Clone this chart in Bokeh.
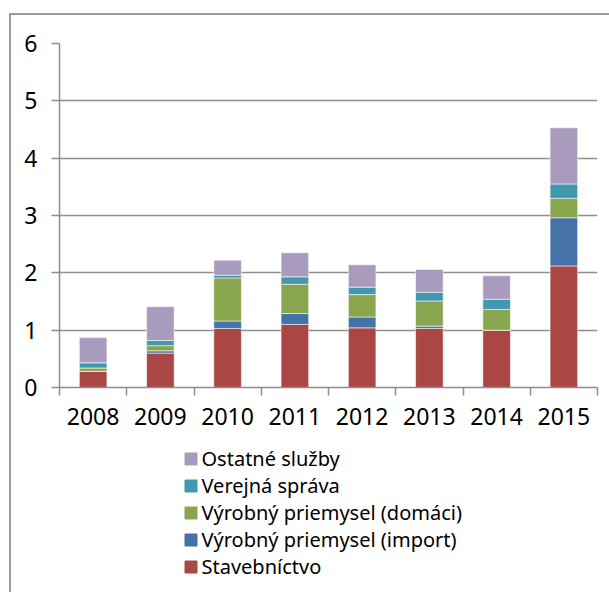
from bokeh.plotting import figure
from bokeh.layouts import column
from bokeh.models import Range1d, FixedTicker, Legend, LegendItem
from bokeh.embed import file_html
from bokeh.resources import INLINE

# Categories and stacked series (values read per year)
years = ["2008", "2009", "2010", "2011", "2012", "2013", "2014", "2015"]
stavebnictvo = [0.28, 0.60, 1.03, 1.10, 1.04, 1.03, 1.00, 2.12]
vyrobny_import = [0.00, 0.04, 0.13, 0.19, 0.19, 0.04, 0.00, 0.84]
vyrobny_domaci = [0.06, 0.09, 0.75, 0.51, 0.39, 0.44, 0.36, 0.34]
verejna_sprava = [0.09, 0.09, 0.05, 0.13, 0.13, 0.15, 0.18, 0.25]
ostatne_sluzby = [0.44, 0.59, 0.26, 0.42, 0.39, 0.40, 0.41, 0.98]

series_names = ["Stavebníctvo", "Výrobný priemysel (import)",
                "Výrobný priemysel (domáci)", "Verejná správa", "Ostatné služby"]
colors = ["#AA4643", "#4572A7", "#89A54E", "#4198AF", "#A99BBD"]
y_ticks = [0, 1, 2, 3, 4, 5, 6]

FONT = "Noto Sans"
GREY = "#8E8E8E"

x_pos = [i + 0.5 for i in range(len(years))]
data = {"x": x_pos, "s0": stavebnictvo, "s1": vyrobny_import, "s2": vyrobny_domaci,
        "s3": verejna_sprava, "s4": ostatne_sluzby}
keys = ["s0", "s1", "s2", "s3", "s4"]

# ---- main chart ----
p = figure(width=598, height=425, output_backend="svg", toolbar_location=None,
           x_range=Range1d(0, len(years)), y_range=Range1d(0, 6),
           min_border_left=48, min_border_right=12, min_border_top=28,
           min_border_bottom=53)
p.outline_line_color = None
p.background_fill_color = "white"
p.border_fill_color = "white"

p.vbar_stack(keys, x="x", width=0.41, source=data, color=colors,
             line_color="white", line_alpha=0.55, line_width=1)

# y axis
p.yaxis.ticker = FixedTicker(ticks=y_ticks)
p.yaxis.axis_line_color = GREY
p.yaxis.axis_line_width = 1.5
p.yaxis.major_tick_line_color = GREY
p.yaxis.major_tick_line_width = 1.5
p.yaxis.major_tick_in = 0
p.yaxis.major_tick_out = 8
p.yaxis.minor_tick_line_color = None
p.yaxis.major_label_text_font = FONT
p.yaxis.major_label_text_font_size = "23px"
p.yaxis.major_label_text_color = "black"
p.yaxis.major_label_standoff = 14

# x axis: labels at category centres, ticks at category boundaries
p.xaxis.ticker = FixedTicker(ticks=x_pos, minor_ticks=list(range(len(years) + 1)))
p.xaxis.major_label_overrides = {x: y for x, y in zip(x_pos, years)}
p.xaxis.axis_line_color = GREY
p.xaxis.axis_line_width = 1.5
p.xaxis.major_tick_line_color = None
p.xaxis.minor_tick_line_color = GREY
p.xaxis.minor_tick_line_width = 1.5
p.xaxis.minor_tick_in = 0
p.xaxis.minor_tick_out = 8
p.xaxis.major_label_text_font = FONT
p.xaxis.major_label_text_font_size = "23px"
p.xaxis.major_label_text_color = "black"
p.xaxis.major_label_standoff = 12

p.xgrid.grid_line_color = None
p.ygrid.ticker = FixedTicker(ticks=y_ticks)
p.ygrid.grid_line_color = GREY
p.ygrid.grid_line_width = 1.5

# ---- legend strip below the chart ----
lg = figure(width=598, height=152, output_backend="svg", toolbar_location=None,
            x_range=Range1d(0, 1), y_range=Range1d(0, 1),
            x_axis_type=None, y_axis_type=None, min_border=0)
lg.outline_line_color = None
lg.grid.grid_line_color = None
lg.background_fill_color = "white"
lg.border_fill_color = "white"

# hidden copies of the series, used only for the legend swatches
swatches = [lg.vbar(x="x", top=k, width=0.41, source=data, color=c, visible=False)
            for k, c in zip(keys, colors)]
items = [LegendItem(label=name, renderers=[r])
         for name, r in zip(series_names, swatches)][::-1]
legend = Legend(items=items, location=(124, 12), orientation="vertical",
                label_text_font=FONT, label_text_font_size="20px",
                label_text_color="black", glyph_width=15, glyph_height=15,
                label_height=20, label_standoff=4, spacing=0, padding=0, margin=0,
                border_line_color=None, background_fill_alpha=0)
lg.add_layout(legend)

# chart-area border on the left and top
layout = column(p, lg, spacing=0,
                styles={"margin-left": "8.5px", "margin-top": "12.5px",
                        "border-left": "2px solid #9A9A9A",
                        "border-top": "2px solid #9A9A9A"})

open("out.html", "w").write(file_html(layout, INLINE))
